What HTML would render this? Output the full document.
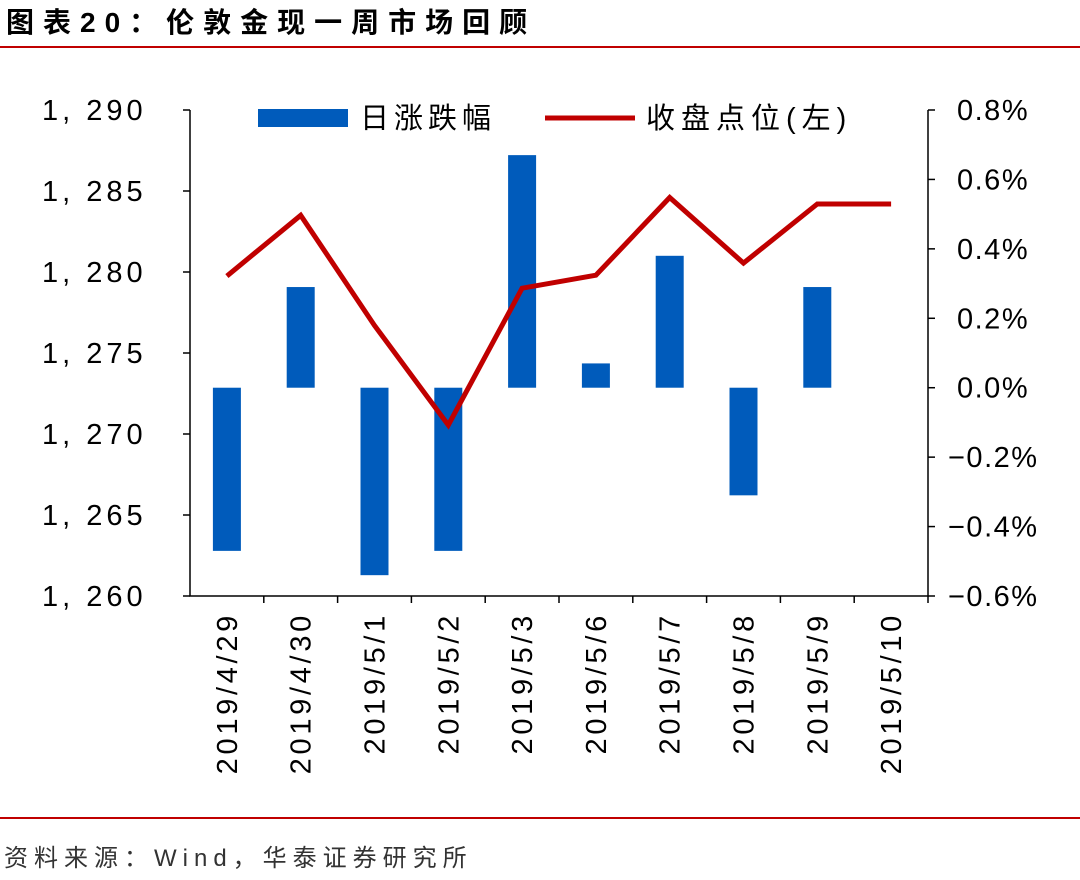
<!DOCTYPE html>
<html><head><meta charset="utf-8"><style>
body{margin:0;background:#fff;width:1080px;height:875px;overflow:hidden;font-family:"Liberation Sans","Noto Sans CJK SC",sans-serif}
</style></head><body>
<svg id="c" width="1080" height="875" xmlns="http://www.w3.org/2000/svg">
<text x="6" y="32" font-size="28" font-weight="bold" fill="#000" letter-spacing="9" font-family="Liberation Sans, Noto Sans CJK SC, sans-serif">图表20：伦敦金现一周市场回顾</text>
<line x1="0" y1="47" x2="1080" y2="47" stroke="#c00000" stroke-width="2"/>
<line x1="0" y1="818" x2="1080" y2="818" stroke="#c00000" stroke-width="2"/>
<text x="4" y="866" font-size="24" fill="#333" letter-spacing="6" font-family="Liberation Sans, Noto Sans CJK SC, sans-serif">资料来源：Wind，华泰证券研究所</text>
<g id="plot"></g>
</svg>
<script>
const categories=["2019/4/29","2019/4/30","2019/5/1","2019/5/2","2019/5/3","2019/5/6","2019/5/7","2019/5/8","2019/5/9","2019/5/10"];
const dailyChange=[-0.47,0.29,-0.54,-0.47,0.67,0.07,0.38,-0.31,0.29,0];
const closePrice=[1279.75,1283.5,1276.7,1270.55,1279.0,1279.8,1284.6,1280.55,1284.2,1284.2];
const leftTicks=[1260,1265,1270,1275,1280,1285,1290];
const leftTickLabels=["1, 260","1, 265","1, 270","1, 275","1, 280","1, 285","1, 290"];
const rightTicks=[-0.6,-0.4,-0.2,0,0.2,0.4,0.6,0.8];
const rightTickLabels=["−0.6%","−0.4%","−0.2%","0.0%","0.2%","0.4%","0.6%","0.8%"];

const NS="http://www.w3.org/2000/svg";
const g=document.getElementById('plot');
const X0=190,X1=928,Y0=596,Y1=110;
const yL=v=>Y0-(v-1260)/(1290-1260)*(Y0-Y1);
const yR=v=>Y0-(v+0.6)/(1.4)*(Y0-Y1);
const step=(X1-X0)/categories.length;
const xC=i=>X0+step*(i+0.5);
function el(t,a){const e=document.createElementNS(NS,t);for(const k in a)e.setAttribute(k,a[k]);g.appendChild(e);return e;}
const F="Liberation Sans, Noto Sans CJK SC, sans-serif";

let ax=el('path',{d:`M${X0} ${Y1}V${Y0}H${X1}V${Y1}`,fill:'none',stroke:'#000','stroke-width':1.5});


leftTicks.forEach((v,i)=>{
 const t=el('line',{x1:X0-7,x2:X0,y1:yL(v),y2:yL(v),stroke:'#000','stroke-width':1.5});
 
 
 const l=el('text',{x:42,y:yL(v)+10,'font-size':29,'letter-spacing':4,'font-family':F});
 l.textContent=leftTickLabels[i];
 
 
});
rightTicks.forEach((v,i)=>{
 const t=el('line',{x1:X1,x2:X1+7,y1:yR(v),y2:yR(v),stroke:'#000','stroke-width':1.5});
 
 
 const l=el('text',{x:v<0?948:957,y:yR(v)+10,'font-size':29,'letter-spacing':1.5,'font-family':F});
 l.textContent=rightTickLabels[i];
 
 
});
categories.forEach((c,i)=>{
 const t=el('line',{x1:X0+step*(i+1),x2:X0+step*(i+1),y1:Y0,y2:Y0+7,stroke:'#000','stroke-width':1.5});
 
 
 const x=xC(i)+10,y=612;
 const l=el('text',{x:x,y:y,'font-size':29,'letter-spacing':3.7,'text-anchor':'end','font-family':F,transform:`rotate(-90 ${x} ${y})`});
 l.textContent=c;
 
 
});
dailyChange.forEach((v,i)=>{
 if(v===0)return;
 const a=yR(0),b=yR(v);
 const r=el('rect',{x:xC(i)-14,y:Math.min(a,b),width:28,height:Math.abs(a-b),fill:'#005bbb'});
 
 
});
const p=el('polyline',{points:closePrice.map((v,i)=>xC(i)+','+yL(v)).join(' '),fill:'none',stroke:'#c00000','stroke-width':5,'stroke-linejoin':'miter'});


const lr=el('rect',{x:258,y:109,width:90,height:18,fill:'#005bbb'});


const lt=el('text',{x:360,y:128,'font-size':29,'letter-spacing':5,'font-family':F});
lt.textContent='日涨跌幅';


const ll=el('line',{x1:545,x2:635,y1:118,y2:118,stroke:'#c00000','stroke-width':5});


const lt2=el('text',{x:646,y:128,'font-size':29,'letter-spacing':6,'font-family':F});
lt2.textContent='收盘点位(左)';


</script>
</body></html>
